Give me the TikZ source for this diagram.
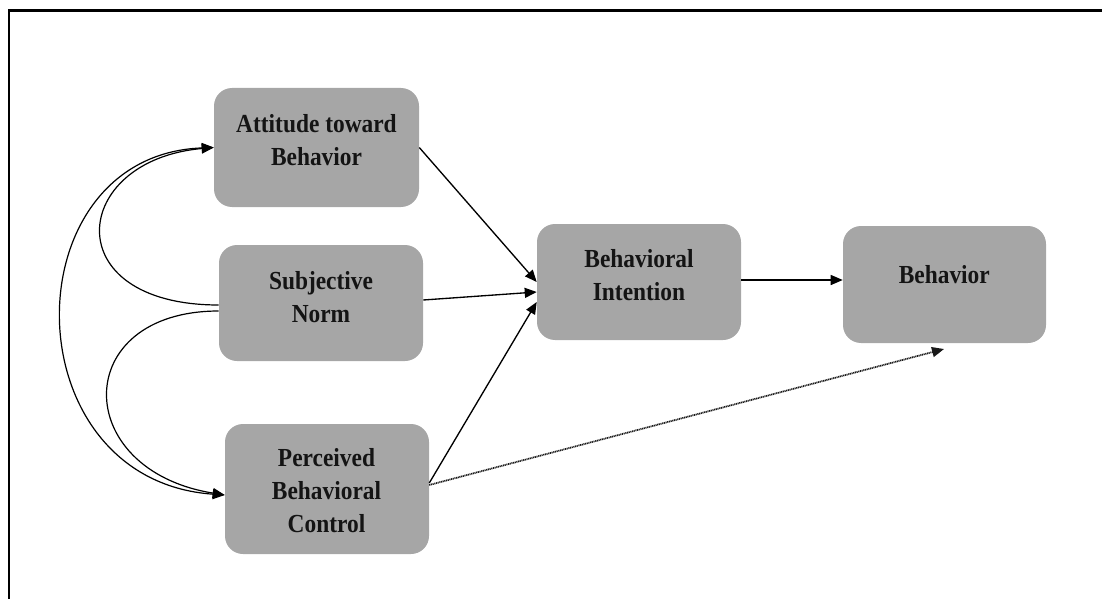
\documentclass[tikz,border=0pt]{standalone}
\usepackage{fontspec}
\newfontfamily\boxfont{Liberation Serif}[FakeStretch=0.9]
\usetikzlibrary{arrows.meta}
\definecolor{boxgray}{HTML}{A6A6A6}
\begin{document}
\begin{tikzpicture}[x=0.75pt,y=-0.75pt,
  box/.style={rectangle, rounded corners=13.5pt, fill=boxgray, draw=none, inner sep=0pt},
  lbl/.style={align=center, inner sep=0pt, text=black!92,
    font=\boxfont\bfseries\fontsize{19.5}{24.75}\selectfont},
  head/.style={Triangle[length=9pt,width=7.5pt]},
  tip/.style={-{Triangle[length=9pt,width=7.5pt]}},
  link/.style={line width=1pt, tip},
  corr/.style={line width=0.9pt},
  dotted link/.style={line width=1.3pt, black!90, dash pattern=on 0.8pt off 0.5pt, tip}
]
\useasboundingbox (0,0) rectangle (1102,599);
% outer frame (top and left sides)
\draw[line width=1.8pt] (1102,10.5) -- (8.7,10.5) -- (8.7,599);

% boxes
\node[box, minimum width=153.75pt, minimum height=89.25pt] (att) at (316.5,147.5) {};
\node[box, minimum width=153pt, minimum height=87pt] (sn) at (321,303) {};
\node[box, minimum width=153pt, minimum height=97.5pt] (pbc) at (327,489) {};
\node[box, minimum width=153pt, minimum height=87pt] (bi) at (639,282) {};
\node[box, minimum width=152.25pt, minimum height=87.75pt] (beh) at (944.5,284.5) {};

% box texts
\node[lbl] (attT) at (316.5,140) {Attitude toward\\Behavior};
\node[lbl] (snT) at (321,296.7) {Subjective\\Norm};
\node[lbl] (pbcT) at (326.5,490.5) {Perceived\\Behavioral\\Control};
\node[lbl] (biT) at (639,275.3) {Behavioral\\Intention};
\node[lbl] (behT) at (944.3,275) {Behavior};

% direct paths
\draw[link] (att.east) -- (bi.west);
\draw[link] ([yshift=2.25pt]sn.east) -- ([yshift=-7.5pt]bi.west);
\draw[link] ([yshift=4.5pt]pbc.east) -- ([yshift=-15pt]bi.west);
\draw[link] ([yshift=1.5pt]bi.east) -- ([yshift=1.5pt]bi.east -| beh.west);
\coordinate (dotend) at (944,349);
\draw[dotted link] ([yshift=3pt]pbc.east) -- (dotend);

% correlations between the antecedents
\draw[corr, tip] ([yshift=-1.5pt]sn.west) .. controls (55,305) and (70,160) .. (att.west);
\draw[corr, tip] ([yshift=-6pt]sn.west) .. controls (70,311) and (70,470) .. ([yshift=-4.5pt]pbc.west);
\draw[corr, {Triangle[length=9pt,width=7.5pt]}-{Triangle[length=9pt,width=7.5pt]}]
  (att.west) .. controls (10,155) and (10,480) .. ([yshift=-4.5pt]pbc.west);
\end{tikzpicture}
\end{document}
